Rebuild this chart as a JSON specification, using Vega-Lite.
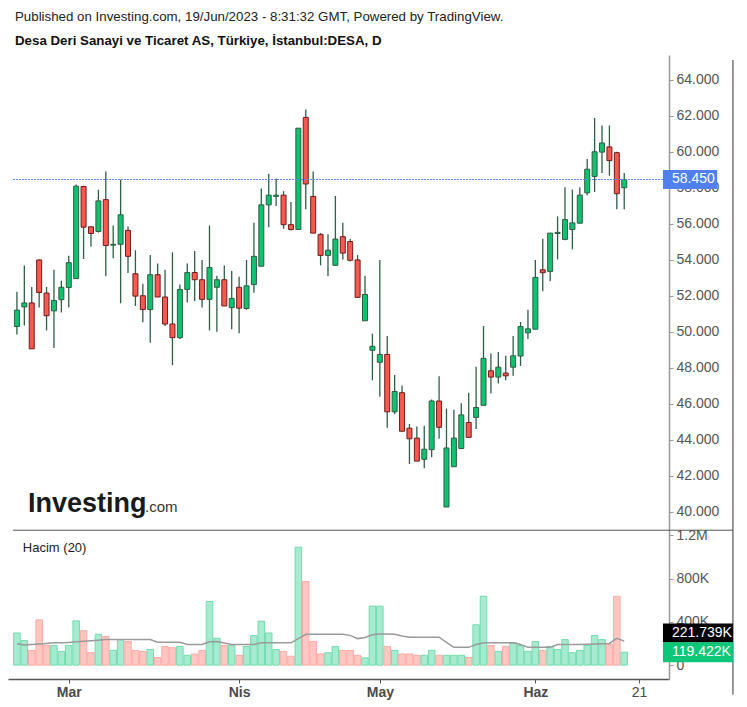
{
 "$schema": "https://vega.github.io/schema/vega-lite/v6.json",
 "background": "white",
 "width": 661,
 "height": 624,
 "autosize": {"type": "none"},
 "padding": {"left": 8, "top": 55, "right": 78, "bottom": 22},
 "config": {
  "view": {"stroke": null},
  "font": "Liberation Sans",
  "axis": {"grid": false, "labelFont": "Liberation Sans", "labelFontSize": 14, "labelOverlap": false, "tickSize": 4},
  "axisX": {"labelColor": "#4a4a4a", "tickColor": "#555555", "domainColor": "#555555", "domainWidth": 1.5, "labelPadding": 2},
  "axisY": {"labelColor": "#555555", "tickColor": "#999999", "domainColor": "#999999", "domainWidth": 1.5, "labelPadding": 3}
 },
 "title": {"text": "Published on Investing.com, 19/Jun/2023 - 8:31:32 GMT, Powered by TradingView.", "subtitle": "Desa Deri Sanayi ve Ticaret AS, Türkiye, İstanbul:DESA, D", "anchor": "start", "frame": "group", "font": "Liberation Sans", "fontSize": 13.3, "fontWeight": "normal", "color": "#222222", "subtitleFont": "Liberation Sans", "subtitleFontSize": 13.3, "subtitleFontWeight": "bold", "subtitleColor": "#111111", "subtitlePadding": 10, "offset": 8, "dx": 7},
 "datasets": {
  "ohlc": [
   {"i":0,"date":"2023-02-20","o":50.28,"h":52.21,"l":49.84,"c":51.19,"v":297000,"ma":197000},
   {"i":1,"date":"2023-02-21","o":51.37,"h":53.67,"l":50.33,"c":51.59,"v":227000,"ma":185000},
   {"i":2,"date":"2023-02-22","o":51.59,"h":52.48,"l":49.04,"c":49.04,"v":136000,"ma":190000},
   {"i":3,"date":"2023-02-23","o":53.98,"h":54.0,"l":51.33,"c":52.17,"v":418000,"ma":195000},
   {"i":4,"date":"2023-02-24","o":52.14,"h":52.48,"l":50.06,"c":50.88,"v":182000,"ma":200000},
   {"i":5,"date":"2023-02-27","o":51.15,"h":53.43,"l":49.09,"c":51.73,"v":182000,"ma":206000},
   {"i":6,"date":"2023-02-28","o":51.77,"h":52.83,"l":51.06,"c":52.46,"v":127000,"ma":206000},
   {"i":7,"date":"2023-03-01","o":52.45,"h":54.21,"l":51.33,"c":53.83,"v":182000,"ma":210000},
   {"i":8,"date":"2023-03-02","o":52.94,"h":58.17,"l":52.94,"c":58.08,"v":409000,"ma":215000},
   {"i":9,"date":"2023-03-03","o":58.06,"h":58.10,"l":54.03,"c":55.80,"v":318000,"ma":220000},
   {"i":10,"date":"2023-03-06","o":55.82,"h":55.85,"l":54.71,"c":55.45,"v":115000,"ma":225000},
   {"i":11,"date":"2023-03-07","o":55.56,"h":57.88,"l":55.50,"c":57.26,"v":285000,"ma":230000},
   {"i":12,"date":"2023-03-08","o":57.33,"h":58.90,"l":53.07,"c":54.78,"v":264000,"ma":236000},
   {"i":13,"date":"2023-03-09","o":54.80,"h":55.89,"l":54.07,"c":54.85,"v":136000,"ma":236000},
   {"i":14,"date":"2023-03-10","o":54.85,"h":58.44,"l":51.57,"c":56.49,"v":236000,"ma":236000},
   {"i":15,"date":"2023-03-13","o":55.62,"h":55.84,"l":53.25,"c":54.18,"v":218000,"ma":236000},
   {"i":16,"date":"2023-03-14","o":53.21,"h":54.52,"l":51.42,"c":51.97,"v":136000,"ma":236000},
   {"i":17,"date":"2023-03-15","o":51.99,"h":52.66,"l":50.51,"c":51.22,"v":127000,"ma":236000},
   {"i":18,"date":"2023-03-16","o":51.22,"h":54.25,"l":49.38,"c":53.16,"v":145000,"ma":236000},
   {"i":19,"date":"2023-03-17","o":53.16,"h":53.78,"l":51.92,"c":51.92,"v":70000,"ma":212000},
   {"i":20,"date":"2023-03-20","o":51.92,"h":53.43,"l":50.31,"c":50.42,"v":173000,"ma":212000},
   {"i":21,"date":"2023-03-21","o":50.42,"h":54.40,"l":48.13,"c":49.66,"v":161000,"ma":212000},
   {"i":22,"date":"2023-03-22","o":49.66,"h":52.61,"l":49.58,"c":52.34,"v":173000,"ma":212000},
   {"i":23,"date":"2023-03-23","o":52.34,"h":53.78,"l":51.61,"c":53.28,"v":91000,"ma":191000},
   {"i":24,"date":"2023-03-24","o":53.28,"h":54.47,"l":51.70,"c":52.88,"v":103000,"ma":191000},
   {"i":25,"date":"2023-03-27","o":52.88,"h":53.98,"l":51.33,"c":51.79,"v":136000,"ma":191000},
   {"i":26,"date":"2023-03-28","o":51.79,"h":55.89,"l":50.06,"c":53.56,"v":588000,"ma":215000},
   {"i":27,"date":"2023-03-29","o":52.46,"h":53.10,"l":49.99,"c":52.88,"v":248000,"ma":218000},
   {"i":28,"date":"2023-03-30","o":52.88,"h":53.67,"l":51.42,"c":51.42,"v":182000,"ma":205000},
   {"i":29,"date":"2023-03-31","o":51.33,"h":53.37,"l":50.13,"c":51.84,"v":182000,"ma":191000},
   {"i":30,"date":"2023-04-03","o":52.46,"h":53.05,"l":49.91,"c":51.30,"v":91000,"ma":191000},
   {"i":31,"date":"2023-04-04","o":51.28,"h":53.98,"l":51.21,"c":52.54,"v":173000,"ma":191000},
   {"i":32,"date":"2023-04-05","o":52.61,"h":56.04,"l":52.15,"c":54.18,"v":273000,"ma":191000},
   {"i":33,"date":"2023-04-06","o":53.63,"h":57.95,"l":53.63,"c":57.04,"v":406000,"ma":206000},
   {"i":34,"date":"2023-04-07","o":57.04,"h":58.77,"l":55.80,"c":57.58,"v":297000,"ma":206000},
   {"i":35,"date":"2023-04-10","o":57.51,"h":58.50,"l":56.98,"c":57.58,"v":145000,"ma":206000},
   {"i":36,"date":"2023-04-11","o":57.58,"h":57.80,"l":55.71,"c":55.94,"v":127000,"ma":206000},
   {"i":37,"date":"2023-04-12","o":55.94,"h":57.20,"l":55.62,"c":55.67,"v":82000,"ma":206000},
   {"i":38,"date":"2023-04-13","o":55.67,"h":61.30,"l":55.67,"c":61.30,"v":1090000,"ma":245000},
   {"i":39,"date":"2023-04-14","o":61.90,"h":62.34,"l":56.80,"c":58.20,"v":773000,"ma":285000},
   {"i":40,"date":"2023-04-17","o":57.51,"h":58.90,"l":55.47,"c":55.47,"v":218000,"ma":285000},
   {"i":41,"date":"2023-04-18","o":55.40,"h":55.47,"l":53.68,"c":54.23,"v":103000,"ma":285000},
   {"i":42,"date":"2023-04-19","o":54.23,"h":55.40,"l":53.07,"c":54.52,"v":115000,"ma":285000},
   {"i":43,"date":"2023-04-20","o":53.68,"h":57.53,"l":53.68,"c":55.14,"v":173000,"ma":285000},
   {"i":44,"date":"2023-04-24","o":55.27,"h":56.04,"l":54.01,"c":54.36,"v":136000,"ma":285000},
   {"i":45,"date":"2023-04-25","o":55.00,"h":55.14,"l":53.89,"c":53.96,"v":136000,"ma":275000},
   {"i":46,"date":"2023-04-26","o":53.98,"h":54.25,"l":51.90,"c":51.90,"v":91000,"ma":245000},
   {"i":47,"date":"2023-04-27","o":50.60,"h":53.10,"l":50.60,"c":52.06,"v":67000,"ma":255000},
   {"i":48,"date":"2023-04-28","o":48.96,"h":49.88,"l":47.29,"c":49.18,"v":545000,"ma":280000},
   {"i":49,"date":"2023-05-02","o":48.29,"h":53.98,"l":46.38,"c":48.73,"v":545000,"ma":288000},
   {"i":50,"date":"2023-05-03","o":48.73,"h":49.75,"l":44.65,"c":45.54,"v":173000,"ma":288000},
   {"i":51,"date":"2023-05-04","o":45.54,"h":47.58,"l":45.41,"c":46.67,"v":136000,"ma":285000},
   {"i":52,"date":"2023-05-05","o":46.60,"h":47.00,"l":44.46,"c":44.46,"v":103000,"ma":270000},
   {"i":53,"date":"2023-05-08","o":44.63,"h":44.86,"l":42.64,"c":44.04,"v":103000,"ma":258000},
   {"i":54,"date":"2023-05-09","o":44.08,"h":44.72,"l":42.80,"c":42.80,"v":91000,"ma":258000},
   {"i":55,"date":"2023-05-10","o":42.90,"h":44.77,"l":42.40,"c":43.46,"v":91000,"ma":258000},
   {"i":56,"date":"2023-05-11","o":43.44,"h":46.23,"l":43.01,"c":46.14,"v":136000,"ma":258000},
   {"i":57,"date":"2023-05-12","o":46.14,"h":47.51,"l":44.04,"c":44.68,"v":91000,"ma":258000},
   {"i":58,"date":"2023-05-15","o":40.25,"h":45.72,"l":40.25,"c":43.53,"v":91000,"ma":210000},
   {"i":59,"date":"2023-05-16","o":42.49,"h":45.65,"l":42.49,"c":44.08,"v":91000,"ma":164000},
   {"i":60,"date":"2023-05-17","o":43.50,"h":46.01,"l":43.50,"c":45.37,"v":91000,"ma":164000},
   {"i":61,"date":"2023-05-18","o":44.95,"h":46.60,"l":44.12,"c":44.12,"v":70000,"ma":164000},
   {"i":62,"date":"2023-05-22","o":45.23,"h":48.05,"l":44.59,"c":45.78,"v":373000,"ma":190000},
   {"i":63,"date":"2023-05-23","o":45.90,"h":50.31,"l":45.90,"c":48.51,"v":636000,"ma":206000},
   {"i":64,"date":"2023-05-24","o":47.82,"h":48.78,"l":46.56,"c":47.47,"v":182000,"ma":206000},
   {"i":65,"date":"2023-05-25","o":47.47,"h":48.86,"l":47.11,"c":48.02,"v":127000,"ma":206000},
   {"i":66,"date":"2023-05-26","o":47.69,"h":48.65,"l":47.29,"c":47.54,"v":173000,"ma":206000},
   {"i":67,"date":"2023-05-29","o":48.02,"h":49.75,"l":47.54,"c":48.65,"v":206000,"ma":206000},
   {"i":68,"date":"2023-05-30","o":48.64,"h":50.53,"l":48.09,"c":50.28,"v":182000,"ma":190000},
   {"i":69,"date":"2023-05-31","o":49.93,"h":51.21,"l":49.58,"c":50.15,"v":127000,"ma":164000},
   {"i":70,"date":"2023-06-01","o":50.13,"h":53.98,"l":50.13,"c":53.01,"v":218000,"ma":164000},
   {"i":71,"date":"2023-06-02","o":53.43,"h":55.16,"l":52.24,"c":53.27,"v":136000,"ma":164000},
   {"i":72,"date":"2023-06-05","o":53.34,"h":55.47,"l":52.79,"c":55.47,"v":173000,"ma":164000},
   {"i":73,"date":"2023-06-06","o":55.45,"h":56.40,"l":54.01,"c":55.51,"v":145000,"ma":191000},
   {"i":74,"date":"2023-06-07","o":55.12,"h":58.02,"l":55.07,"c":56.22,"v":236000,"ma":191000},
   {"i":75,"date":"2023-06-08","o":55.67,"h":57.89,"l":54.56,"c":56.04,"v":115000,"ma":191000},
   {"i":76,"date":"2023-06-09","o":56.02,"h":58.02,"l":56.02,"c":57.58,"v":136000,"ma":191000},
   {"i":77,"date":"2023-06-12","o":57.71,"h":59.59,"l":57.58,"c":59.02,"v":182000,"ma":193000},
   {"i":78,"date":"2023-06-13","o":58.62,"h":61.87,"l":57.75,"c":59.99,"v":273000,"ma":195000},
   {"i":79,"date":"2023-06-14","o":59.97,"h":61.45,"l":58.81,"c":60.48,"v":236000,"ma":198000},
   {"i":80,"date":"2023-06-15","o":60.26,"h":61.45,"l":58.66,"c":59.50,"v":194000,"ma":200000},
   {"i":81,"date":"2023-06-16","o":59.94,"h":59.99,"l":56.80,"c":57.66,"v":636000,"ma":248000},
   {"i":82,"date":"2023-06-19","o":57.99,"h":58.81,"l":56.80,"c":58.45,"v":119422,"ma":221739}
  ]
 },
 "resolve": {"scale": {"y": "independent"}, "axis": {"y": "independent"}},
 "layer": [
  {
   "layer": [
    {
     "data": {"name": "ohlc"},
     "mark": {"type": "rule", "color": "#2f5e46", "strokeWidth": 1.3},
     "encoding": {
      "x": {"field": "i", "type": "quantitative", "scale": {"domain": [-0.53, 87.37], "nice": false, "zero": false},
            "axis": {"orient": "bottom", "title": null, "values": [7, 30, 49, 70, 84], "labelExpr": "datum.value == 7 ? 'Mar' : datum.value == 30 ? 'Nis' : datum.value == 49 ? 'May' : datum.value == 70 ? 'Haz' : '21'", "labelFontWeight": {"condition": {"test": "datum.value == 84", "value": "normal"}, "value": "bold"}}},
      "y": {"field": "l", "type": "quantitative", "scale": {"domain": [30.97, 65.09], "nice": false, "zero": false},
            "axis": {"orient": "right", "title": null, "values": [40,42,44,46,48,50,52,54,56,58,60,62,64], "format": ".3f"}},
      "y2": {"field": "h"}
     }
    },
    {
     "data": {"name": "ohlc"},
     "mark": {"type": "bar", "size": 5, "strokeWidth": 1},
     "encoding": {
      "x": {"field": "i", "type": "quantitative",
            "axis": {"orient": "bottom", "title": null, "values": [7, 30, 49, 70, 84], "labelExpr": "datum.value == 7 ? 'Mar' : datum.value == 30 ? 'Nis' : datum.value == 49 ? 'May' : datum.value == 70 ? 'Haz' : '21'", "labelFontWeight": {"condition": {"test": "datum.value == 84", "value": "normal"}, "value": "bold"}}},
      "y": {"field": "o", "type": "quantitative",
            "axis": {"orient": "right", "title": null, "values": [40,42,44,46,48,50,52,54,56,58,60,62,64], "format": ".3f"}},
      "y2": {"field": "c"},
      "fill": {"condition": {"test": "datum.c >= datum.o", "value": "#0ec26f"}, "value": "#f6594f"},
      "stroke": {"condition": {"test": "datum.c >= datum.o", "value": "#2d5e44"}, "value": "#6e1c1c"}
     }
    },
    {
     "data": {"values": [{"x0": -0.53, "x1": 87.37, "last": 58.45}]},
     "mark": {"type": "rule", "color": "#5f84f2", "strokeDash": [2, 1], "strokeWidth": 1},
     "encoding": {
      "x": {"field": "x0", "type": "quantitative",
            "axis": {"orient": "bottom", "title": null, "values": [7, 30, 49, 70, 84], "labelExpr": "datum.value == 7 ? 'Mar' : datum.value == 30 ? 'Nis' : datum.value == 49 ? 'May' : datum.value == 70 ? 'Haz' : '21'", "labelFontWeight": {"condition": {"test": "datum.value == 84", "value": "normal"}, "value": "bold"}}},
      "x2": {"field": "x1"},
      "y": {"field": "last", "type": "quantitative",
            "axis": {"orient": "right", "title": null, "values": [40,42,44,46,48,50,52,54,56,58,60,62,64], "format": ".3f"}}
     }
    },
    {
     "data": {"values": [{"x0": -0.53, "x1": 96.68, "at": 38.96}]},
     "mark": {"type": "rule", "color": "#555555", "strokeWidth": 1},
     "encoding": {
      "x": {"field": "x0", "type": "quantitative",
            "axis": {"orient": "bottom", "title": null, "values": [7, 30, 49, 70, 84], "labelExpr": "datum.value == 7 ? 'Mar' : datum.value == 30 ? 'Nis' : datum.value == 49 ? 'May' : datum.value == 70 ? 'Haz' : '21'", "labelFontWeight": {"condition": {"test": "datum.value == 84", "value": "normal"}, "value": "bold"}}},
      "x2": {"field": "x1"},
      "y": {"field": "at", "type": "quantitative",
            "axis": {"orient": "right", "title": null, "values": [40,42,44,46,48,50,52,54,56,58,60,62,64], "format": ".3f"}}
     }
    },
    {
     "data": {"values": [{"x0": 96.68, "top": 65.09, "bottom": 29.82}]},
     "mark": {"type": "rule", "color": "#333333", "strokeWidth": 1},
     "encoding": {
      "x": {"field": "x0", "type": "quantitative",
            "axis": {"orient": "bottom", "title": null, "values": [7, 30, 49, 70, 84], "labelExpr": "datum.value == 7 ? 'Mar' : datum.value == 30 ? 'Nis' : datum.value == 49 ? 'May' : datum.value == 70 ? 'Haz' : '21'", "labelFontWeight": {"condition": {"test": "datum.value == 84", "value": "normal"}, "value": "bold"}}},
      "y": {"field": "top", "type": "quantitative",
            "axis": {"orient": "right", "title": null, "values": [40,42,44,46,48,50,52,54,56,58,60,62,64], "format": ".3f"}},
      "y2": {"field": "bottom"}
     }
    },
    {
     "data": {"values": [{"x0": 87.23, "x1": 94.55, "last": 58.45, "label": "58.450"}]},
     "mark": {"type": "bar", "size": 19, "color": "#5080ee"},
     "encoding": {
      "x": {"field": "x0", "type": "quantitative",
            "axis": {"orient": "bottom", "title": null, "values": [7, 30, 49, 70, 84], "labelExpr": "datum.value == 7 ? 'Mar' : datum.value == 30 ? 'Nis' : datum.value == 49 ? 'May' : datum.value == 70 ? 'Haz' : '21'", "labelFontWeight": {"condition": {"test": "datum.value == 84", "value": "normal"}, "value": "bold"}}},
      "x2": {"field": "x1"},
      "y": {"field": "last", "type": "quantitative",
            "axis": {"orient": "right", "title": null, "values": [40,42,44,46,48,50,52,54,56,58,60,62,64], "format": ".3f"}}
     }
    },
    {
     "data": {"values": [{"x0": 87.23, "last": 58.45, "label": "58.450"}]},
     "mark": {"type": "text", "align": "left", "baseline": "middle", "color": "white", "fontSize": 14, "font": "Liberation Sans", "dx": 9},
     "encoding": {
      "x": {"field": "x0", "type": "quantitative",
            "axis": {"orient": "bottom", "title": null, "values": [7, 30, 49, 70, 84], "labelExpr": "datum.value == 7 ? 'Mar' : datum.value == 30 ? 'Nis' : datum.value == 49 ? 'May' : datum.value == 70 ? 'Haz' : '21'", "labelFontWeight": {"condition": {"test": "datum.value == 84", "value": "normal"}, "value": "bold"}}},
      "y": {"field": "last", "type": "quantitative",
            "axis": {"orient": "right", "title": null, "values": [40,42,44,46,48,50,52,54,56,58,60,62,64], "format": ".3f"}},
      "text": {"field": "label"}
     }
    },
    {
     "data": {"values": [{"x0": 1.5, "y0": 40.0, "word": "Investing"}]},
     "mark": {"type": "text", "align": "left", "baseline": "alphabetic", "font": "Liberation Sans", "fontSize": 27, "fontWeight": "bold", "color": "#1a1a1a"},
     "encoding": {
      "x": {"field": "x0", "type": "quantitative",
            "axis": {"orient": "bottom", "title": null, "values": [7, 30, 49, 70, 84], "labelExpr": "datum.value == 7 ? 'Mar' : datum.value == 30 ? 'Nis' : datum.value == 49 ? 'May' : datum.value == 70 ? 'Haz' : '21'", "labelFontWeight": {"condition": {"test": "datum.value == 84", "value": "normal"}, "value": "bold"}}},
      "y": {"field": "y0", "type": "quantitative",
            "axis": {"orient": "right", "title": null, "values": [40,42,44,46,48,50,52,54,56,58,60,62,64], "format": ".3f"}},
      "text": {"field": "word"}
     }
    },
    {
     "data": {"values": [{"x0": 17.3, "y0": 40.0, "word": ".com"}]},
     "mark": {"type": "text", "align": "left", "baseline": "alphabetic", "font": "Liberation Sans", "fontSize": 15, "color": "#333333"},
     "encoding": {
      "x": {"field": "x0", "type": "quantitative",
            "axis": {"orient": "bottom", "title": null, "values": [7, 30, 49, 70, 84], "labelExpr": "datum.value == 7 ? 'Mar' : datum.value == 30 ? 'Nis' : datum.value == 49 ? 'May' : datum.value == 70 ? 'Haz' : '21'", "labelFontWeight": {"condition": {"test": "datum.value == 84", "value": "normal"}, "value": "bold"}}},
      "y": {"field": "y0", "type": "quantitative",
            "axis": {"orient": "right", "title": null, "values": [40,42,44,46,48,50,52,54,56,58,60,62,64], "format": ".3f"}},
      "text": {"field": "word"}
     }
    }
   ]
  },
  {
   "layer": [
    {
     "data": {"name": "ohlc"},
     "mark": {"type": "bar", "size": 6.5, "strokeWidth": 1},
     "encoding": {
      "x": {"field": "i", "type": "quantitative",
            "axis": {"orient": "bottom", "title": null, "values": [7, 30, 49, 70, 84], "labelExpr": "datum.value == 7 ? 'Mar' : datum.value == 30 ? 'Nis' : datum.value == 49 ? 'May' : datum.value == 70 ? 'Haz' : '21'", "labelFontWeight": {"condition": {"test": "datum.value == 84", "value": "normal"}, "value": "bold"}}},
      "y": {"field": "v", "type": "quantitative", "scale": {"domain": [-82000, 5590727], "nice": false, "zero": false},
            "axis": {"orient": "right", "title": null, "values": [0, 400000, 800000, 1200000], "labelExpr": "datum.value == 1200000 ? '1.2M' : datum.value == 0 ? '0' : (datum.value / 1000) + 'K'", "domain": false}},
      "y2": {"datum": 0},
      "fill": {"condition": {"test": "datum.c >= datum.o", "value": "#a6ead0"}, "value": "#ffc6c2"},
      "stroke": {"condition": {"test": "datum.c >= datum.o", "value": "#74dbae"}, "value": "#ffaaa4"}
     }
    },
    {
     "data": {"name": "ohlc"},
     "mark": {"type": "line", "color": "#9a9a9a", "strokeWidth": 1.5},
     "encoding": {
      "x": {"field": "i", "type": "quantitative",
            "axis": {"orient": "bottom", "title": null, "values": [7, 30, 49, 70, 84], "labelExpr": "datum.value == 7 ? 'Mar' : datum.value == 30 ? 'Nis' : datum.value == 49 ? 'May' : datum.value == 70 ? 'Haz' : '21'", "labelFontWeight": {"condition": {"test": "datum.value == 84", "value": "normal"}, "value": "bold"}}},
      "y": {"field": "ma", "type": "quantitative",
            "axis": {"orient": "right", "title": null, "values": [0, 400000, 800000, 1200000], "labelExpr": "datum.value == 1200000 ? '1.2M' : datum.value == 0 ? '0' : (datum.value / 1000) + 'K'", "domain": false}}
     }
    },
    {
     "data": {"values": [{"x0": 87.23, "x1": 96.68, "value": 221739, "label": "221.739K"}]},
     "mark": {"type": "bar", "size": 19, "color": "#000000", "yOffset": -8},
     "encoding": {
      "x": {"field": "x0", "type": "quantitative",
            "axis": {"orient": "bottom", "title": null, "values": [7, 30, 49, 70, 84], "labelExpr": "datum.value == 7 ? 'Mar' : datum.value == 30 ? 'Nis' : datum.value == 49 ? 'May' : datum.value == 70 ? 'Haz' : '21'", "labelFontWeight": {"condition": {"test": "datum.value == 84", "value": "normal"}, "value": "bold"}}},
      "x2": {"field": "x1"},
      "y": {"field": "value", "type": "quantitative",
            "axis": {"orient": "right", "title": null, "values": [0, 400000, 800000, 1200000], "labelExpr": "datum.value == 1200000 ? '1.2M' : datum.value == 0 ? '0' : (datum.value / 1000) + 'K'", "domain": false}}
     }
    },
    {
     "data": {"values": [{"x0": 87.23, "value": 221739, "label": "221.739K"}]},
     "mark": {"type": "text", "align": "left", "baseline": "middle", "color": "white", "fontSize": 14, "font": "Liberation Sans", "dx": 9, "dy": -8},
     "encoding": {
      "x": {"field": "x0", "type": "quantitative",
            "axis": {"orient": "bottom", "title": null, "values": [7, 30, 49, 70, 84], "labelExpr": "datum.value == 7 ? 'Mar' : datum.value == 30 ? 'Nis' : datum.value == 49 ? 'May' : datum.value == 70 ? 'Haz' : '21'", "labelFontWeight": {"condition": {"test": "datum.value == 84", "value": "normal"}, "value": "bold"}}},
      "y": {"field": "value", "type": "quantitative",
            "axis": {"orient": "right", "title": null, "values": [0, 400000, 800000, 1200000], "labelExpr": "datum.value == 1200000 ? '1.2M' : datum.value == 0 ? '0' : (datum.value / 1000) + 'K'", "domain": false}},
      "text": {"field": "label"}
     }
    },
    {
     "data": {"values": [{"x0": 87.23, "x1": 96.68, "value": 119422, "label": "119.422K"}]},
     "mark": {"type": "bar", "size": 20, "color": "#0cc67a"},
     "encoding": {
      "x": {"field": "x0", "type": "quantitative",
            "axis": {"orient": "bottom", "title": null, "values": [7, 30, 49, 70, 84], "labelExpr": "datum.value == 7 ? 'Mar' : datum.value == 30 ? 'Nis' : datum.value == 49 ? 'May' : datum.value == 70 ? 'Haz' : '21'", "labelFontWeight": {"condition": {"test": "datum.value == 84", "value": "normal"}, "value": "bold"}}},
      "x2": {"field": "x1"},
      "y": {"field": "value", "type": "quantitative",
            "axis": {"orient": "right", "title": null, "values": [0, 400000, 800000, 1200000], "labelExpr": "datum.value == 1200000 ? '1.2M' : datum.value == 0 ? '0' : (datum.value / 1000) + 'K'", "domain": false}}
     }
    },
    {
     "data": {"values": [{"x0": 87.23, "value": 119422, "label": "119.422K"}]},
     "mark": {"type": "text", "align": "left", "baseline": "middle", "color": "white", "fontSize": 14, "font": "Liberation Sans", "dx": 9},
     "encoding": {
      "x": {"field": "x0", "type": "quantitative",
            "axis": {"orient": "bottom", "title": null, "values": [7, 30, 49, 70, 84], "labelExpr": "datum.value == 7 ? 'Mar' : datum.value == 30 ? 'Nis' : datum.value == 49 ? 'May' : datum.value == 70 ? 'Haz' : '21'", "labelFontWeight": {"condition": {"test": "datum.value == 84", "value": "normal"}, "value": "bold"}}},
      "y": {"field": "value", "type": "quantitative",
            "axis": {"orient": "right", "title": null, "values": [0, 400000, 800000, 1200000], "labelExpr": "datum.value == 1200000 ? '1.2M' : datum.value == 0 ? '0' : (datum.value / 1000) + 'K'", "domain": false}},
      "text": {"field": "label"}
     }
    },
    {
     "data": {"values": [{"x0": 0.8, "value": 1081600, "label": "Hacim (20)"}]},
     "mark": {"type": "text", "align": "left", "baseline": "middle", "color": "#222222", "fontSize": 13, "font": "Liberation Sans"},
     "encoding": {
      "x": {"field": "x0", "type": "quantitative",
            "axis": {"orient": "bottom", "title": null, "values": [7, 30, 49, 70, 84], "labelExpr": "datum.value == 7 ? 'Mar' : datum.value == 30 ? 'Nis' : datum.value == 49 ? 'May' : datum.value == 70 ? 'Haz' : '21'", "labelFontWeight": {"condition": {"test": "datum.value == 84", "value": "normal"}, "value": "bold"}}},
      "y": {"field": "value", "type": "quantitative",
            "axis": {"orient": "right", "title": null, "values": [0, 400000, 800000, 1200000], "labelExpr": "datum.value == 1200000 ? '1.2M' : datum.value == 0 ? '0' : (datum.value / 1000) + 'K'", "domain": false}},
      "text": {"field": "label"}
     }
    }
   ]
  }
 ]
}
